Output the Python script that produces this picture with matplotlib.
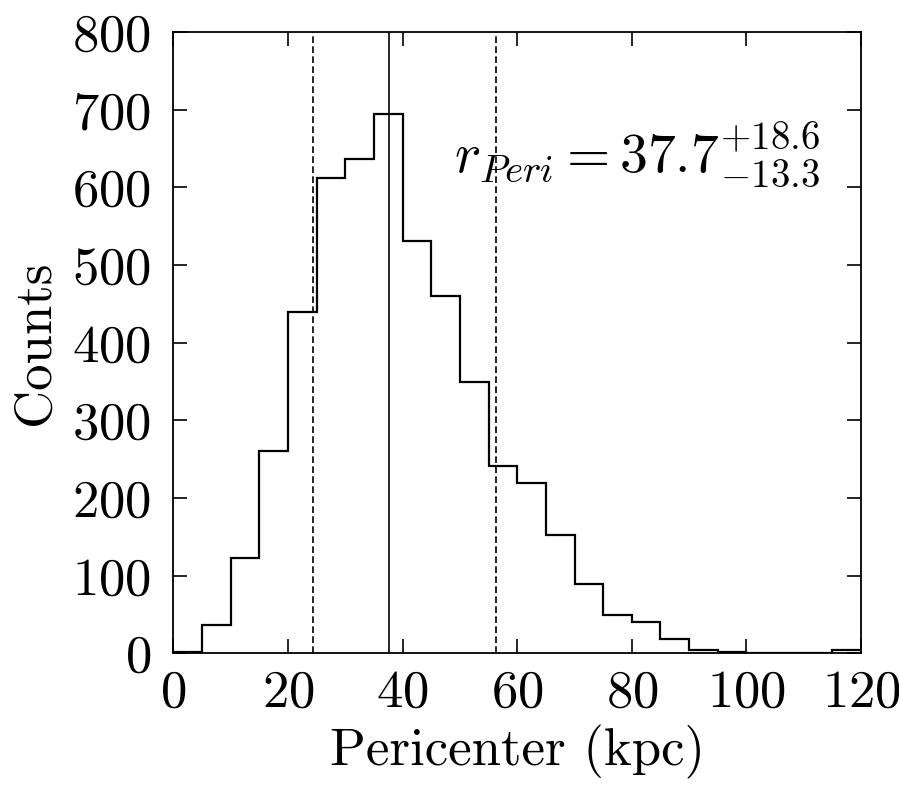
import numpy as np
import matplotlib
matplotlib.use("Agg")
import matplotlib.pyplot as plt

# histogram of pericenter distances, bins of 5 kpc
bin_edges = np.arange(0, 125, 5)
counts = [2, 36, 123, 261, 440, 612, 637, 695, 531, 460, 350, 241,
          220, 153, 89, 50, 41, 18, 4, 2, 1, 0, 1, 4]

r_median = 37.7
r_lo = 24.4
r_hi = 56.3

plt.rcParams.update({
    'font.family': 'serif',
    'font.serif': ['cmr10'],
    'mathtext.fontset': 'cm',
    'axes.formatter.use_mathtext': True,
    'font.size': 38,
})

fig = plt.figure(figsize=(8.99, 7.93), dpi=100)
ax = fig.add_axes([0.1928, 0.176, 0.765, 0.7836])

ax.stairs(counts, bin_edges, color='black', linewidth=1.6)
ax.axvline(r_median, color='black', linewidth=1.2)
ax.axvline(r_lo, color='black', linewidth=1.2, linestyle=(0, (4, 2)))
ax.axvline(r_hi, color='black', linewidth=1.2, linestyle=(0, (4, 2)))

ax.text(49.0, 619, r'$r_{Peri} = 37.7^{+18.6}_{-13.3}$', fontsize=40,
        ha='left', va='baseline')

ax.set_xlim(0, 120)
ax.set_ylim(0, 800)
ax.set_xticks(np.arange(0, 121, 20))
ax.set_yticks(np.arange(0, 801, 100))
ax.tick_params(direction='in', length=10, width=1.2, top=True, right=True)
ax.tick_params(axis='y', pad=16)
ax.tick_params(axis='x', pad=12)
for s in ax.spines.values():
    s.set_linewidth(1.3)

ax.set_xlabel('Pericenter (kpc)', labelpad=6)
ax.set_ylabel('Counts', labelpad=10)

fig.savefig('out.png', dpi=100)
